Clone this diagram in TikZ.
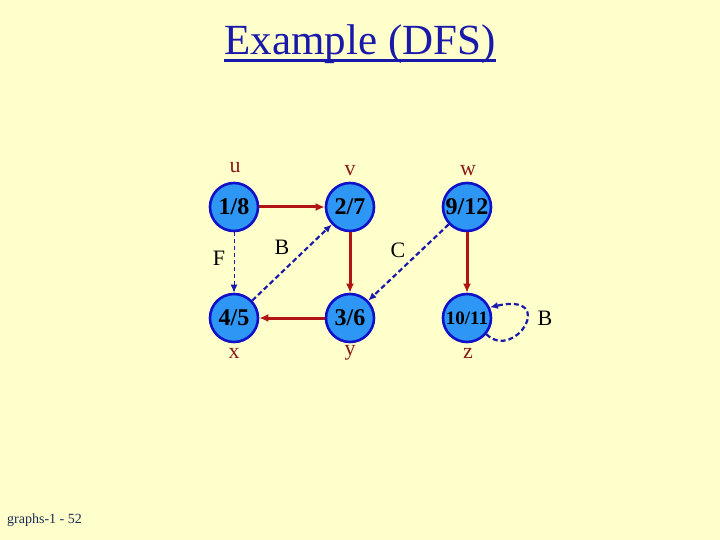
\documentclass[tikz,border=0pt]{standalone}
\usepackage{fontspec}
\setmainfont{Liberation Serif}
\usetikzlibrary{arrows.meta}
\definecolor{bg}{HTML}{FFFFCC}
\definecolor{titleblue}{HTML}{1A1AAA}
\definecolor{nodefill}{HTML}{2E96F5}
\definecolor{nodeline}{HTML}{1010C8}
\definecolor{treered}{HTML}{B01414}
\definecolor{labred}{HTML}{8B1A1A}
\definecolor{dashblue}{HTML}{1A1AAA}
\definecolor{footcol}{HTML}{1A2A55}
\tikzset{
  vert/.style={circle,draw=nodeline,line width=2.6pt,fill=nodefill,minimum size=48pt,inner sep=0pt,font=\fontsize{24}{26}\selectfont\bfseries},
  vlab/.style={text=labred,font=\fontsize{22}{24}\selectfont},
  elab/.style={text=black,font=\fontsize{22}{24}\selectfont},
  tree/.style={draw=treered,line width=3pt,-{Latex[length=9pt,width=8pt]}},
  nontree/.style={draw=dashblue,line width=2.2pt,dash pattern=on 5pt off 3pt,-{Latex[length=8pt,width=7pt]}},
  thinnontree/.style={draw=dashblue,line width=1pt,dash pattern=on 4pt off 3pt,-{Latex[length=8pt,width=7pt]}},
}
\begin{document}
\begin{tikzpicture}[x=1pt,y=-1pt]
\fill[bg] (0,0) rectangle (720,540);
\useasboundingbox (0,0) rectangle (720,540);
\node[text=titleblue,font=\fontsize{43}{46}\selectfont,inner sep=0pt,anchor=base] (title) at (360,55) {Example (DFS)};
\draw[titleblue,line width=3pt] (title.base west) ++(0,6) -- ([yshift=-6pt]title.base east);
\node[vert] (u) at (234,207) {1/8};
\node[vert] (v) at (350,207) {2/7};
\node[vert] (w) at (467,207) {9/12};
\node[vert] (x) at (234,318) {4/5};
\node[vert] (y) at (350,318) {3/6};
\node[vert,font=\fontsize{19}{21}\selectfont\bfseries] (z) at (467,318) {10/11};
\node[vlab] (lu) at (235,168) {u};
\node[vlab] (lv) at (350,171) {v};
\node[vlab] (lw) at (468,171) {w};
\node[vlab] (lx) at (234,353) {x};
\node[vlab] (ly) at (350,353) {y};
\node[vlab] (lz) at (468,353) {z};
\draw[tree] (u) -- (v);
\draw[tree] (v) -- (y);
\draw[tree] (y) -- (x);
\draw[tree] (w) -- (z);
\draw[thinnontree] (u) -- (x);
\draw[nontree] (x) -- (v);
\draw[nontree] (w) -- (y);
\draw[nontree] (z.-40) .. controls (515,362) and (558,292) .. (z.25);
\node[elab] (F) at (219,258) {F};
\node[elab] (B1) at (282,247) {B};
\node[elab] (C) at (398,250) {C};
\node[elab] (B2) at (545,318) {B};
\node[text=footcol,font=\fontsize{14}{16}\selectfont,anchor=west,inner sep=0pt] (foot) at (7,520) {graphs-1 - 52};
\end{tikzpicture}
\end{document}
